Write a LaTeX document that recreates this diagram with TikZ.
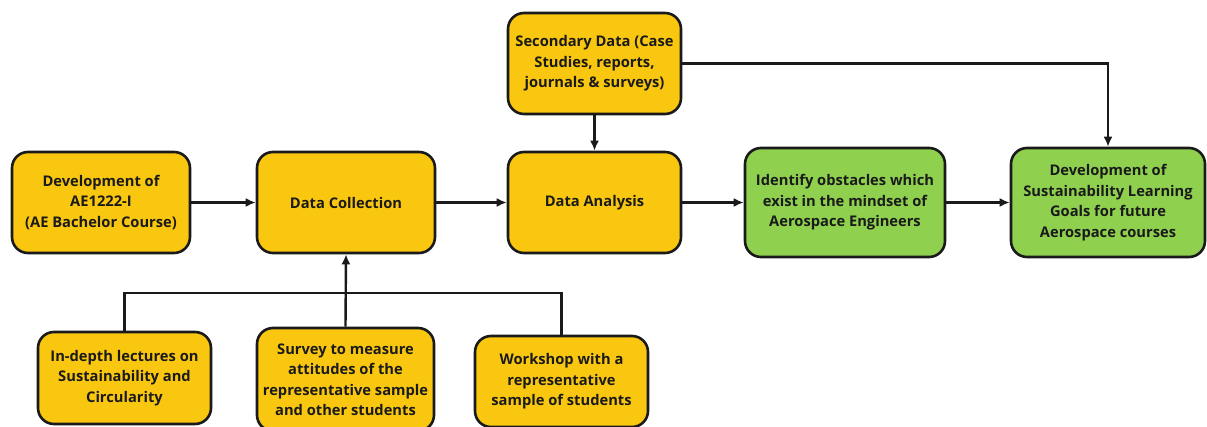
\documentclass[tikz,border=0pt]{standalone}
\usepackage{fontspec}
\setmainfont{Open Sans}
\usetikzlibrary{arrows.meta}
\definecolor{boxyellow}{HTML}{FAC710}
\definecolor{boxgreen}{HTML}{8FD14F}
\definecolor{ink}{HTML}{1A1A1A}
\begin{document}
\begin{tikzpicture}[x=1pt, y=-1pt,
  box/.style={draw=ink, line width=2.6pt, rounded corners=16pt, fill=boxyellow,
    text=ink, align=center, inner sep=0pt,
    font=\fontsize{14.7}{20.5}\selectfont\bfseries},
  goal/.style={box, fill=boxgreen},
  link/.style={draw=ink, line width=2.4pt, -{Latex[length=10pt,width=9pt]}},
  wire/.style={draw=ink, line width=2.4pt}]
  \clip (0,0) rectangle (1207,427);
  \fill[white] (0,0) rectangle (1207,427);
  % main row
  \node[box, minimum width=178, minimum height=101] (dev) at (101,202.5)
    {Development of\\AE1222-I\\(AE Bachelor Course)};
  \node[box, minimum width=178, minimum height=101] (coll) at (346,202.5)
    {Data Collection};
  \node[box, minimum width=173, minimum height=101] (anal) at (594.5,202.5)
    {Data Analysis};
  \node[box, minimum width=173, minimum height=101] (second) at (594.5,63.5)
    {Secondary Data (Case\\Studies, reports,\\journals \& surveys)};
  \node[goal, minimum width=200, minimum height=109] (obst) at (845,202.5)
    {Identify obstacles which\\exist in the mindset of\\Aerospace Engineers};
  \node[goal, minimum width=194, minimum height=109] (slg) at (1108,202.5)
    {Development of\\Sustainability Learning\\Goals for future\\Aerospace courses};
  % sources of the data collection
  \node[box, minimum width=173, minimum height=92] (lect) at (124.5,378)
    {In-depth lectures on\\Sustainability and\\Circularity};
  \node[box, minimum width=177, minimum height=103] (surv) at (345.5,379.5)
    {Survey to measure\\attitudes of the\\representative sample\\and other students};
  \node[box, minimum width=173, minimum height=91] (work) at (561.5,381.5)
    {Workshop with a\\representative\\sample of students};
  % connectors
  \draw[link] (dev) -- (coll);
  \draw[link] (coll) -- (anal);
  \draw[link] (anal) -- (obst);
  \draw[link] (obst) -- (slg);
  \draw[link] (second) -- (anal);
  \draw[link] (second.east) -| (slg.north);
  \coordinate (join) at (345.5,293);
  \draw[wire] (lect.north) |- (join) -| (work.north);
  \draw[link] (surv.north) -- (coll.south);
\end{tikzpicture}
\end{document}
